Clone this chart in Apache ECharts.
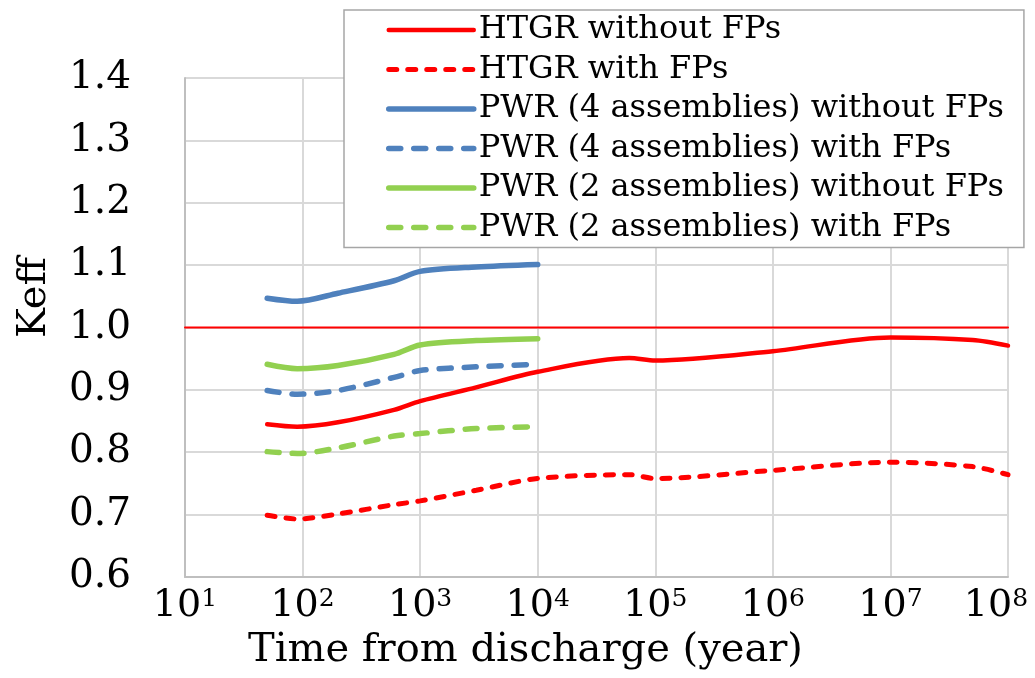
<!DOCTYPE html>
<html>
<head>
<meta charset="utf-8">
<script src="https://cdn.jsdelivr.net/npm/echarts@6/dist/echarts.min.js"></script>
<style>
	html, body { margin: 0; padding: 0; background: #fff; }
	#main { width: 1035px; height: 678px; }
</style>
</head>
<body>
<div id="main"></div>
<script>
// 时间 (year)
var pwrTime = [50, 90, 200, 600, 1000, 3000, 10000];
var htgrTime = [50, 90, 200, 600, 1000, 3000, 10000, 60000, 100000, 1000000, 10000000, 50000000, 100000000];

// Keff
var htgrNoFp = [0.845, 0.841, 0.848, 0.868, 0.882, 0.904, 0.929, 0.951, 0.947, 0.962, 0.984, 0.980, 0.971];
var htgrFp = [0.699, 0.693, 0.701, 0.716, 0.722, 0.739, 0.758, 0.764, 0.758, 0.771, 0.784, 0.777, 0.764];
var pwr4NoFp = [1.047, 1.042, 1.055, 1.075, 1.090, 1.097, 1.101];
var pwr4Fp = [0.899, 0.893, 0.899, 0.920, 0.931, 0.937, 0.941];
var pwr2NoFp = [0.941, 0.934, 0.939, 0.957, 0.972, 0.979, 0.982];
var pwr2Fp = [0.801, 0.798, 0.807, 0.826, 0.830, 0.838, 0.841];

// 临界线
var critTime = [10, 100000000];
var critKeff = [1.0, 1.0];

var names = [
	'HTGR without FPs',
	'HTGR with FPs',
	'PWR (4 assemblies) without FPs',
	'PWR (4 assemblies) with FPs',
	'PWR (2 assemblies) without FPs',
	'PWR (2 assemblies) with FPs'
];
var xExponents = [1, 2, 3, 4, 5, 6, 7, 8];
var yTicks = ['0.6', '0.7', '0.8', '0.9', '1.0', '1.1', '1.2', '1.3', '1.4'];

var FONT = '"DejaVu Serif", "Liberation Serif", serif';

function pairs(xs, ys) {
	return xs.map(function (x, i) { return [x, ys[i]]; });
}

function line(name, xs, ys, color, width, dash) {
	return {
		name: name,
		type: 'line',
		data: pairs(xs, ys),
		symbol: 'none',
		smooth: 0.3,
		lineStyle: {
			color: color,
			width: width,
			type: dash || 'solid',
			cap: 'round'
		},
		itemStyle: { color: color }
	};
}

var chart = echarts.init(document.getElementById('main'));

var option = {
	animation: false,
	backgroundColor: '#fff',
	textStyle: { fontFamily: FONT },
	//网格
	grid: {
		left: 185,
		right: 27,
		top: 78,
		bottom: 101,
		outerBoundsMode: 'none'
	},
	//图例
	legend: {
		data: names,
		orient: 'vertical',
		left: 344,
		top: 10,
		padding: [4, 20, 4, 42],
		itemGap: 7.5,
		itemWidth: 85,
		itemHeight: 8,
		backgroundColor: '#fff',
		borderColor: '#a6a6a6',
		borderWidth: 1.5,
		itemStyle: { opacity: 0 },
		lineStyle: { width: 'inherit' },
		textStyle: {
			fontFamily: FONT,
			fontSize: 32,
			lineHeight: 32,
			color: '#000'
		}
	},
	//x轴
	xAxis: {
		type: 'log',
		logBase: 10,
		min: 10,
		max: 100000000,
		name: 'Time from discharge (year)',
		nameLocation: 'middle',
		nameGap: 54,
		nameTextStyle: {
			fontFamily: FONT,
			fontSize: 40,
			color: '#000',
			padding: [0, 142, 0, 0]
		},
		axisLine: { lineStyle: { color: '#bfbfbf', width: 2 } },
		axisTick: { show: false },
		splitLine: { show: true, lineStyle: { color: '#d9d9d9', width: 2 } },
		axisLabel: {
			margin: 10,
			color: '#000',
			formatter: function (v) {
				var i = Math.round(Math.log10(v)) - 1;
				// 最后一个标签左移, 不超出画布
				var sup = i === xExponents.length - 1 ? 'e' : 's';
				return '10{' + sup + '|' + xExponents[i] + '}';
			},
			rich: {
				s: {
					fontFamily: FONT,
					fontSize: 25,
					verticalAlign: 'top',
					padding: [0, 0, 14, 0],
					color: '#000'
				},
				e: {
					fontFamily: FONT,
					fontSize: 25,
					verticalAlign: 'top',
					padding: [0, 24, 14, 0],
					color: '#000'
				}
			},
			fontFamily: FONT,
			fontSize: 38
		}
	},
	//y轴
	yAxis: {
		type: 'value',
		min: 0.6,
		max: 1.4,
		interval: 0.1,
		name: 'Keff',
		nameLocation: 'middle',
		nameRotate: 90,
		nameGap: 130,
		nameTextStyle: {
			fontFamily: FONT,
			fontSize: 40,
			color: '#000',
			padding: [0, 0, 0, 60]
		},
		axisLine: { show: true, lineStyle: { color: '#bfbfbf', width: 2 } },
		axisTick: { show: false },
		splitLine: { lineStyle: { color: '#d9d9d9', width: 2 } },
		axisLabel: {
			margin: 54,
			color: '#000',
			fontFamily: FONT,
			fontSize: 39,
			formatter: function (v) {
				return yTicks[Math.round((v - 0.6) * 10)];
			}
		}
	},
	//系列列表
	series: [
		line('Keff = 1', critTime, critKeff, '#ff0000', 2),
		line(names[0], htgrTime, htgrNoFp, '#ff0000', 4.5),
		line(names[1], htgrTime, htgrFp, '#ff0000', 5, [8, 11]),
		line(names[2], pwrTime, pwr4NoFp, '#4f81bd', 5.5),
		line(names[3], pwrTime, pwr4Fp, '#4f81bd', 5.5, [12, 13]),
		line(names[4], pwrTime, pwr2NoFp, '#92d050', 5.5),
		line(names[5], pwrTime, pwr2Fp, '#92d050', 5.5, [12, 13])
	]
};

chart.setOption(option);
</script>
</body>
</html>
